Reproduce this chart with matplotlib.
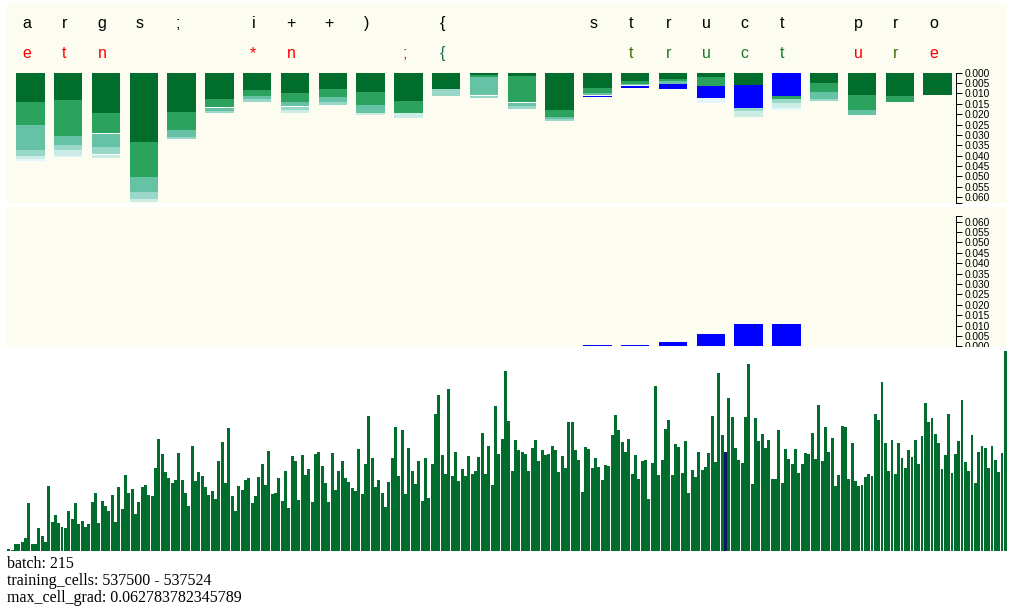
import matplotlib.pyplot as plt

W, H = 1010, 611
CREAM = '#fcfcf0'
BUGN = ['#006d2c', '#2ca25f', '#66c2a4', '#99d8c9', '#ccece6', '#e5f5f9']
SEG_COLORS = {0: BUGN[0], 1: BUGN[1], 2: BUGN[2], 3: BUGN[3], 4: BUGN[4], 5: BUGN[5],
              'B': '#0000ff', 'W': '#ffffff'}

# ---- data ----
input_chars = list("args; i++) {   struct pro")
pred_chars = ['e', 't', 'n', '', '', '', '*', 'n', '', '', ';', '{', '', '',
              '', '', 't', 'r', 'u', 'c', 't', '', 'u', 'r', 'e']
pred_colors = ['#ff0000', '#ff0000', '#ff0000', 'k', 'k', 'k', '#ff0000', '#ff0000', 'k', 'k',
               '#ee1030', '#1f6e5a', 'k', 'k', 'k', 'k', '#4a6b00', '#1c7a2a', '#1c7a2a',
               '#1c7a2a', '#1c7a2a', 'k', '#ff0000', '#3a7010', '#ff0000']

# per column: gradient pieces (stacked downwards) and their colour keys
seg_vals = [
    [0.01396, 0.01123, 0.01203, 0.00289, 0.00144, 0.00112],
    [0.01315, 0.01733, 0.00433, 0.00241, 0.00289, 0.00064],
    [0.01941, 0.00962, 0.00032, 0.00642, 0.00337, 0.00048, 0.00144],
    [0.03337, 0.01684, 0.00722, 0.00337, 0.00144],
    [0.01893, 0.00866, 0.00337, 0.00112],
    [0.01267, 0.00385, 0.00048, 0.00144, 0.00096],
    [0.00834, 0.00289, 0.00160, 0.00128],
    [0.00978, 0.00433, 0.00192, 0.00048, 0.00144, 0.00144],
    [0.00786, 0.00401, 0.00225, 0.00144],
    [0.00930, 0.00626, 0.00385, 0.00096],
    [0.01363, 0.00577, 0.00241],
    [0.00802, 0.00305],
    [0.00128, 0.00096, 0.00850, 0.00048, 0.00112],
    [0.00160, 0.01251, 0.00048, 0.00144, 0.00128],
    [0.01796, 0.00321, 0.00128, 0.00064],
    [0.00738, 0.00257, 0.00080, 0.00032, 0.00048],
    [0.00401, 0.00144, 0.00064, 0.00048, 0.00096],
    [0.00305, 0.00096, 0.00128, 0.00273],
    [0.00209, 0.00433, 0.00577, 0.00225],
    [0.00593, 0.01123, 0.00128, 0.00273],
    [0.01123, 0.00160, 0.00192, 0.00241, 0.00080],
    [0.00481, 0.00449, 0.00321, 0.00096],
    [0.01075, 0.00722, 0.00241],
    [0.01123, 0.00289],
    [0.01059],
]
seg_keys = [
    [0, 1, 2, 3, 4, 5],
    [0, 1, 2, 3, 4, 5],
    [0, 1, 'W', 2, 3, 'W', 4],
    [0, 1, 2, 3, 4],
    [0, 1, 2, 3],
    [0, 1, 'W', 2, 3],
    [0, 1, 2, 3],
    [0, 1, 2, 'W', 3, 4],
    [0, 1, 2, 3],
    [0, 1, 2, 4],
    [0, 1, 4],
    [0, 3],
    [0, 1, 2, 'W', 3],
    [0, 1, 'W', 2, 3],
    [0, 1, 2, 3],
    [0, 1, 2, 'W', 'B'],
    [0, 1, 2, 'W', 'B'],
    [0, 1, 2, 'B'],
    [0, 1, 'B', 5],
    [0, 'B', 3, 4],
    ['B', 1, 3, 4, 5],
    [0, 1, 2, 3],
    [0, 1, 2],
    [0, 1],
    [0],
]

target_cols = [15, 16, 17, 18, 19, 20]
target_grads = [0.0004, 0.0008, 0.0023, 0.0060, 0.0108, 0.0108]

batch_vals = [
    6, 2, 21, 21, 27, 39, 144, 21, 21, 69, 45, 27, 195, 87, 108, 84, 72, 69, 120, 96,
    144, 81, 90, 72, 81, 147, 174, 84, 150, 135, 120, 168, 87, 192, 126, 228, 174, 186, 111, 147,
    192, 198, 168, 165, 249, 336, 291, 237, 219,
    204, 213, 294, 213, 174, 135, 315, 210, 237, 225, 192, 168, 180, 156, 270, 327, 204, 369, 165, 120,
    195, 183, 213, 219, 144, 165, 222, 261, 198, 300, 171, 174, 219, 150, 240, 129, 285, 270, 153, 288,
    228, 246, 147, 291, 297, 255, 204, 147, 294, 183,
    240, 270, 219, 207, 189, 180, 306, 171, 261, 405, 279, 192, 213, 174, 132, 207, 279, 372, 225, 363,
    171, 309, 240, 201, 270, 150, 279, 159, 261, 411, 468, 288, 231, 486, 225, 297, 210, 246, 225, 285,
    231, 240, 282, 354, 231, 315, 198, 435, 291, 336, 540,
    390, 240, 333, 303, 297, 291, 240, 309, 333, 270, 303, 288, 291, 315, 303, 237, 285, 249, 387, 387,
    303, 273, 177, 312, 306, 249, 279, 252, 213, 258, 255, 348, 408, 363, 327, 297, 336, 231, 288, 216,
    270, 273, 156, 264, 495, 228, 273, 366, 393, 228,
    321, 312, 234, 330, 174, 243, 222, 297, 243, 252, 294, 405, 267, 534, 348, 297, 459, 402, 309, 273,
    264, 402, 561, 201, 399, 330, 351, 309, 333, 216, 216, 363, 204, 306, 276, 261, 306, 234, 261, 294,
    291, 354, 276, 438, 270, 372, 297, 339, 195, 228,
    375, 372, 216, 324, 210, 195, 198, 222, 231, 225, 411, 393, 507, 324, 240, 333, 231, 324, 279, 249,
    303, 282, 333, 261, 345, 444, 387, 399, 351, 324, 246, 288, 411, 234, 291, 330, 453, 267, 240, 348,
    204, 297, 315, 309, 249, 315, 273, 237, 294, 600,
]
current_batch = 215
max_cell_grad = 0.062783782345789
ticks = [i * 0.005 for i in range(13)]


def px_rect(x0, y0, x1, y1):
    return [x0 / W, 1 - y1 / H, (x1 - x0) / W, (y1 - y0) / H]


K = 2077.0           # pixels per gradient unit
COL0, STEP = 30.4, 37.8
xl = ((7 - COL0) / STEP, (1007 - COL0) / STEP)
axis_x = (956 - COL0) / STEP


def style_axis(ax):
    for s in ['top', 'left', 'bottom']:
        ax.spines[s].set_visible(False)
    ax.spines['right'].set_position(('data', axis_x))
    ax.spines['right'].set_bounds(0, max_cell_grad)
    ax.spines['right'].set_linewidth(0.72)
    ax.set_xticks([])
    ax.yaxis.tick_right()
    ax.set_yticks(ticks)
    ax.set_yticklabels(['%.3f' % t for t in ticks], family='Liberation Sans', fontsize=7.3)
    ax.set_yticks([max_cell_grad], minor=True)
    ax.tick_params(axis='y', which='both', direction='out', length=4.3, width=0.72, pad=2.2)


fig = plt.figure(figsize=(W / 100, H / 100), dpi=100)
fig.patch.set_facecolor('white')

# top: stacked gradients per character
ax = fig.add_axes(px_rect(7, 3, 1007, 203))
ax.set_facecolor(CREAM)
ax.set_xlim(*xl)
ax.set_ylim((203 - 72.7) / K, -(72.7 - 3) / K)
for i in range(len(seg_vals)):
    b = 0
    for v, k in zip(seg_vals[i], seg_keys[i]):
        ax.bar(i, v, bottom=b, width=0.754, color=SEG_COLORS[k], linewidth=0)
        b += v
for i, c in enumerate(input_chars):
    if c.strip():
        ax.text(i - 0.105, (28 - 72.7) / K, c, ha='center', va='baseline',
                family='Liberation Sans', fontsize=11.5, color='black')
for i, c in enumerate(pred_chars):
    if c:
        ax.text(i - 0.105, (58 - 72.7) / K, c, ha='center', va='baseline',
                family='Liberation Sans', fontsize=11.5, color=pred_colors[i])
style_axis(ax)

# middle: gradient of the target character
ax2 = fig.add_axes(px_rect(7, 207, 1007, 347))
ax2.set_facecolor(CREAM)
ax2.set_xlim(*xl)
ax2.set_ylim(-(347 - 346.3) / K, (346.3 - 207) / K)
ax2.bar(target_cols, target_grads, width=0.754, color='#0000ff', linewidth=0)
style_axis(ax2)
for t in ax2.yaxis.get_major_ticks():
    t.label2.set_clip_box(ax2.bbox)
    t.label2.set_clip_on(True)

# bottom: per-batch history
ax3 = fig.add_axes(px_rect(7, 351, 1007, 551))
ax3.set_facecolor(CREAM)
n = len(batch_vals)
colors = ['#006d2c'] * n
colors[current_batch] = '#0b1c5a'
ax3.bar(range(n), batch_vals, width=0.9, color=colors, linewidth=0, antialiased=False)
ax3.set_xlim(-0.5, n - 0.5)
ax3.set_ylim(0, 600)
ax3.axis('off')
ax3.patch.set_visible(True)

fig.text(7 / W, 1 - 568 / H, 'batch: %d' % current_batch, family='Liberation Serif',
         fontsize=11.5, va='baseline')
fig.text(7 / W, 1 - 585 / H, 'training_cells: 537500 - 537524', family='Liberation Serif',
         fontsize=11.5, va='baseline')
fig.text(7 / W, 1 - 602 / H, 'max_cell_grad: %s' % repr(max_cell_grad), family='Liberation Serif',
         fontsize=11.5, va='baseline')

fig.savefig('out.png', dpi=100, facecolor='white')
